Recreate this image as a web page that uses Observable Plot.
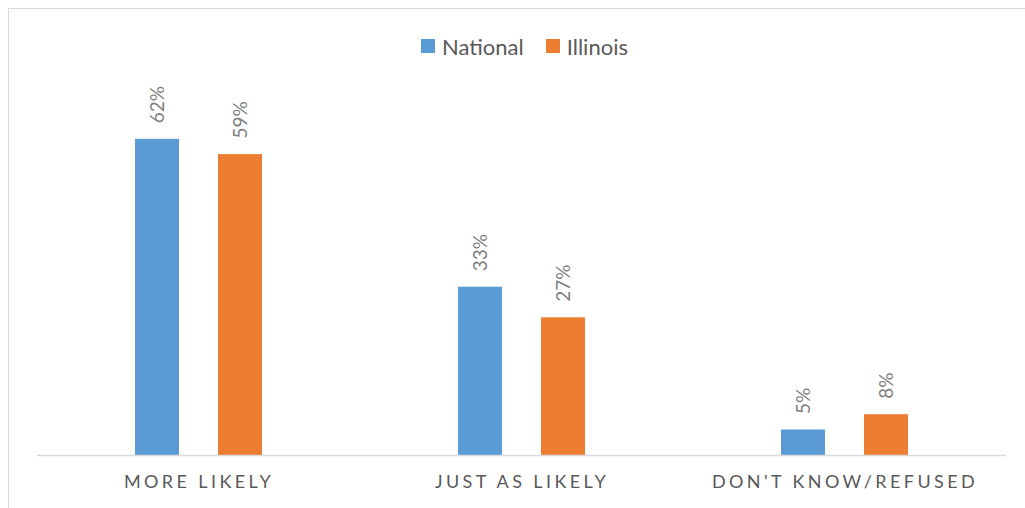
<!DOCTYPE html>
<html>
<head>
<meta charset="utf-8">
<script src="https://cdn.jsdelivr.net/npm/d3@7"></script>
<script src="https://cdn.jsdelivr.net/npm/@observablehq/plot@0.6"></script>
<style>
  html, body { margin: 0; padding: 0; background: #fff; overflow: hidden; }
  body { width: 1025px; height: 508px; position: relative; font-family: Lato, "Open Sans", sans-serif; }
  #frame { position: absolute; left: 8px; top: 8px; width: 1040px; height: 540px; border: 1px solid #d9d9d9; box-sizing: border-box; pointer-events: none; }
  #legend { position: absolute; left: 0; top: 0; width: 1025px; height: 70px; display: flex; justify-content: center; align-items: center; padding-top: 22px; padding-left: 24px; box-sizing: border-box; gap: 22px; font-size: 22px; color: #595959; }
  #legend .item { display: flex; align-items: center; }
  #legend .sw { width: 14px; height: 14px; margin-right: 7px; }
  #chart { position: absolute; left: 0; top: 70px; }
  #chart svg [aria-label="fx-axis tick label"] text { letter-spacing: 3.4px; }
</style>
</head>
<body>
<div id="frame"></div>
<div id="legend"></div>
<div id="chart"></div>
<script>
const categories = ["MORE LIKELY", "JUST AS LIKELY", "DON'T KNOW/REFUSED"];
const seriesNames = ["National", "Illinois"];
const national = [62, 33, 5];
const illinois = [59, 27, 8];
const colors = ["#5B9BD5", "#ED7D31"];

const data = [];
categories.forEach((c, i) => {
  data.push({category: c, series: "National", value: national[i]});
  data.push({category: c, series: "Illinois", value: illinois[i]});
});

const legend = document.getElementById("legend");
seriesNames.forEach((s, i) => {
  const item = document.createElement("div");
  item.className = "item";
  const sw = document.createElement("div");
  sw.className = "sw";
  sw.style.background = colors[i];
  const label = document.createElement("span");
  label.textContent = s;
  item.appendChild(sw);
  item.appendChild(label);
  legend.appendChild(item);
});

const chart = Plot.plot({
  width: 1025,
  height: 438,
  marginLeft: 37,
  marginRight: 19,
  marginTop: 28,
  marginBottom: 53,
  style: {fontFamily: "Lato, 'Open Sans', sans-serif", background: "transparent"},
  fx: {domain: categories, padding: 0, label: null, axis: "bottom", tickSize: 0, tickPadding: 20},
  x: {domain: seriesNames, axis: null, paddingInner: 0.47, paddingOuter: 1.18},
  y: {domain: [0, 70], axis: null},
  color: {domain: seriesNames, range: colors},
  marks: [
    Plot.barY(data, {fx: "category", x: "series", y: "value", fill: "series"}),
    Plot.text(data, {fx: "category", x: "series", y: "value", text: d => d.value + "%", rotate: -90, textAnchor: "start", dy: -16, fontSize: 19, fill: "#7f7f7f"}),
    Plot.ruleY([0], {stroke: "#d9d9d9", strokeWidth: 1.5})
  ]
});

chart.querySelectorAll('[aria-label="fx-axis tick label"]').forEach(g => {
  g.setAttribute("font-size", "18");
  g.setAttribute("fill", "#595959");
});
document.getElementById("chart").appendChild(chart);
</script>
</body>
</html>
